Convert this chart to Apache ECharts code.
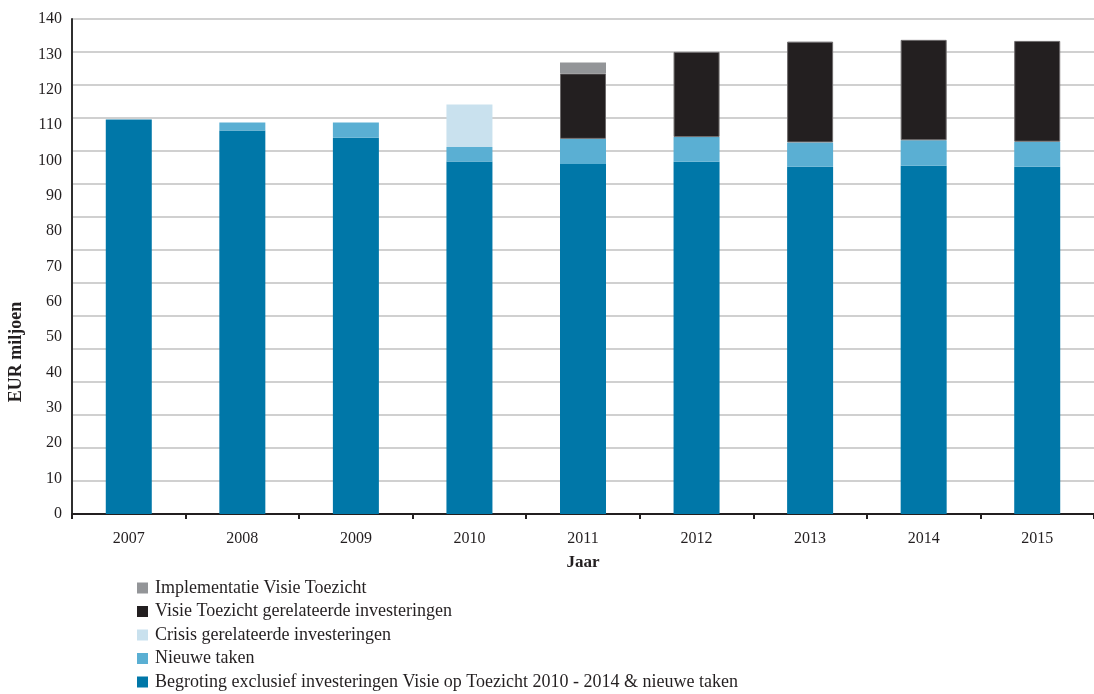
<!DOCTYPE html>
<html>
<head>
<meta charset="utf-8">
<script src="https://cdn.jsdelivr.net/npm/echarts@6/dist/echarts.min.js"></script>
<style>
  html, body { margin: 0; padding: 0; background: #ffffff; }
  #chart { width: 1094px; height: 694px; }
</style>
</head>
<body>
<div id="chart"></div>
<script>
// jaren en waarden (EUR miljoen); '-' = geen segment
const years = ['2007', '2008', '2009', '2010', '2011', '2012', '2013', '2014', '2015']
const begroting = [111.6, 108.5, 106.4, 99.7, 99.0, 99.6, 98.2, 98.5, 98.2]
const nieuweTaken = ['-', 2.2, 4.3, 4.1, 7.1, 7.0, 6.9, 7.2, 7.1]
const crisis = ['-', '-', '-', 12.0, '-', '-', '-', '-', '-']
const visieInvesteringen = ['-', '-', '-', '-', 18.5, 24.1, 28.5, 28.4, 28.5]
const implementatie = ['-', '-', '-', '-', 3.1, '-', '-', '-', '-']

const names = {
  impl: 'Implementatie Visie Toezicht',
  visie: 'Visie Toezicht gerelateerde investeringen',
  crisis: 'Crisis gerelateerde investeringen',
  nieuw: 'Nieuwe taken',
  basis: 'Begroting exclusief investeringen Visie op Toezicht 2010 - 2014 & nieuwe taken',
}

const font = '"Liberation Serif", "DejaVu Serif", serif'
const chart = echarts.init(document.getElementById('chart'))

function bar(name, data, color, border) {
  return {
    name,
    type: 'bar',
    stack: 'totaal',
    data,
    barWidth: 46,
    itemStyle: { color, borderColor: border || color, borderWidth: border ? 1 : 0 },
  }
}

chart.setOption({
  animation: false,
  textStyle: { fontFamily: font },
  grid: { left: 72, top: 19, width: 1031, height: 495 },
  legend: {
    orient: 'vertical',
    left: 137,
    top: 579,
    height: 120,
    padding: 0,
    itemGap: 5.5,
    itemWidth: 11,
    itemHeight: 11,
    icon: 'rect',
    itemStyle: { borderWidth: 0 },
    data: [names.impl, names.visie, names.crisis, names.nieuw, names.basis],
    textStyle: { fontFamily: font, fontSize: 18, color: '#231f20', padding: [0, 0, 0, 2] },
  },
  graphic: [
    {
      type: 'text',
      x: 16,
      y: 352,
      rotation: Math.PI / 2,
      style: {
        text: 'EUR miljoen',
        font: 'bold 18px ' + font,
        fill: '#231f20',
        textAlign: 'center',
        textVerticalAlign: 'middle',
      },
    },
  ],
  xAxis: {
    type: 'category',
    data: years,
    name: 'Jaar',
    nameLocation: 'middle',
    nameGap: 40,
    nameTextStyle: { fontFamily: font, fontSize: 17, fontWeight: 'bold', color: '#231f20' },
    axisLine: { lineStyle: { color: '#231f20', width: 2 } },
    axisTick: { show: true, length: 5, lineStyle: { color: '#231f20', width: 2 } },
    axisLabel: { fontFamily: font, fontSize: 16, color: '#231f20', margin: 17 },
  },
  yAxis: [
    {
      type: 'value',
      min: 0,
      max: 140,
      interval: 10,
      axisLine: { show: true, lineStyle: { color: '#2f2f2f', width: 2 } },
      axisTick: { show: false },
      splitLine: { show: false },
      axisLabel: { fontFamily: font, fontSize: 16, color: '#231f20', margin: 10 },
    },
    {
      // rasterlijnen in de bron staan iets dichter dan de labels
      type: 'value',
      min: 0,
      max: 150,
      interval: 10,
      position: 'left',
      axisLine: { show: false },
      axisTick: { show: false },
      axisLabel: { show: false },
      splitLine: { show: true, lineStyle: { color: '#d0d0d0', width: 2 } },
    },
  ],
  series: [
    bar(names.basis, begroting, '#0077a8'),
    bar(names.nieuw, nieuweTaken, '#5aafd3'),
    bar(names.crisis, crisis, '#c9e1ee'),
    bar(names.visie, visieInvesteringen, '#231f20', '#6d6a6b'),
    bar(names.impl, implementatie, '#939598'),
  ],
})
</script>
</body>
</html>
